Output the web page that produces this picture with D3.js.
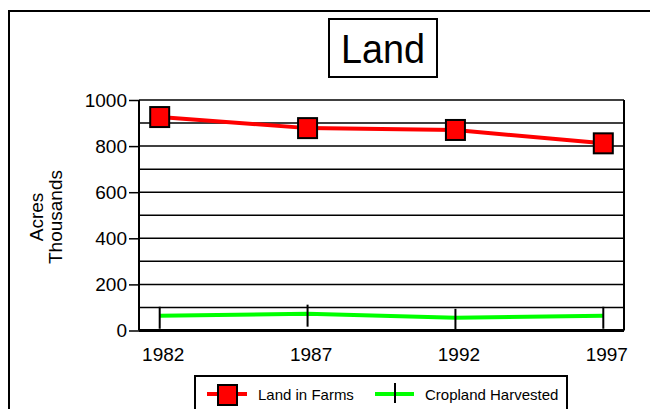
<!DOCTYPE html>
<html>
<head>
<meta charset="utf-8">
<script src="https://cdn.jsdelivr.net/npm/d3@7"></script>
<style>
  body { margin: 0; background: #fff; }
  svg { display: block; font-family: "Liberation Sans", Arial, sans-serif; }
</style>
</head>
<body>
<svg id="chart" width="650" height="409"></svg>
<script>
// data
var years = ["1982", "1987", "1992", "1997"];
var landInFarms = [926, 878, 870, 812];
var croplandHarvested = [64, 73, 55, 64];
var yTicks = [0, 200, 400, 600, 800, 1000];
var yGrid = [100, 200, 300, 400, 500, 600, 700, 800, 900, 1000];

var margin = {top: 100, right: 26, bottom: 78.5, left: 139};
var width = 650 - margin.left - margin.right;
var height = 409 - margin.top - margin.bottom;

var svg = d3.select("#chart");

// outer frame
svg.append("rect")
    .attr("x", 9).attr("y", 11)
    .attr("width", 660).attr("height", 420)
    .attr("fill", "none").attr("stroke", "#000").attr("stroke-width", 2);

// title box
svg.append("rect")
    .attr("x", 329).attr("y", 19)
    .attr("width", 108).attr("height", 58)
    .attr("fill", "#fff").attr("stroke", "#000").attr("stroke-width", 2);
svg.append("text")
    .attr("x", 383).attr("y", 62.5)
    .attr("text-anchor", "middle")
    .attr("font-size", 41)
    .attr("textLength", 84).attr("lengthAdjust", "spacingAndGlyphs")
    .text("Land");

var g = svg.append("g")
    .attr("transform", "translate(" + margin.left + "," + margin.top + ")");

var x = d3.scalePoint().domain(years).range([0, width]).padding(0.14);
var y = d3.scaleLinear().domain([0, 1000]).range([height, 0]);

// grid lines
g.selectAll(".grid")
    .data(yGrid)
    .enter().append("line")
    .attr("class", "grid")
    .attr("x1", 0).attr("x2", width)
    .attr("y1", d => y(d)).attr("y2", d => y(d))
    .attr("stroke", "#000").attr("stroke-width", 1.5);

// right border
g.append("line")
    .attr("x1", width).attr("x2", width)
    .attr("y1", 0).attr("y2", height)
    .attr("stroke", "#000").attr("stroke-width", 2);

// y axis
var yAxis = d3.axisLeft(y).tickValues(yTicks).tickFormat(d3.format("d")).tickSize(10).tickPadding(2);
var ya = g.append("g").attr("class", "axis axis--y").call(yAxis);
ya.attr("font-size", 19).attr("font-family", null);
ya.select(".domain").attr("stroke-width", 2).attr("d", "M0," + height + "V0");
ya.selectAll(".tick line").attr("stroke-width", 1.5);
ya.selectAll("text").attr("fill", "#000");

// x axis
var xAxis = d3.axisBottom(x).tickSize(0).tickPadding(17);
var xa = g.append("g")
    .attr("class", "axis axis--x")
    .attr("transform", "translate(0," + height + ")")
    .call(xAxis);
xa.attr("font-size", 19).attr("font-family", null);
xa.select(".domain").attr("stroke-width", 3).attr("d", "M0,0H" + width);
xa.selectAll("text").attr("fill", "#000").attr("dx", 3);

// y axis title
var yt = svg.append("text")
    .attr("transform", "translate(46,217) rotate(-90)")
    .attr("text-anchor", "middle")
    .attr("font-size", 19);
yt.append("tspan").attr("x", 0).attr("dy", -3).text("Acres");
yt.append("tspan").attr("x", 0).attr("dy", 19).text("Thousands");

var line = d3.line()
    .x((d, i) => x(years[i]))
    .y(d => y(d));

// cropland harvested
g.append("path")
    .datum(croplandHarvested)
    .attr("fill", "none").attr("stroke", "#00ff00").attr("stroke-width", 4)
    .attr("d", line);
g.selectAll(".crop-mark")
    .data(croplandHarvested)
    .enter().append("line")
    .attr("class", "crop-mark")
    .attr("x1", (d, i) => x(years[i])).attr("x2", (d, i) => x(years[i]))
    .attr("y1", d => y(d) - 9).attr("y2", d => Math.min(y(d) + 13, height))
    .attr("stroke", "#000").attr("stroke-width", 2);

// land in farms
g.append("path")
    .datum(landInFarms)
    .attr("fill", "none").attr("stroke", "#ff0000").attr("stroke-width", 4)
    .attr("d", line);
g.selectAll(".farm-mark")
    .data(landInFarms)
    .enter().append("rect")
    .attr("class", "farm-mark")
    .attr("x", (d, i) => x(years[i]) - 9.5)
    .attr("y", d => y(d) - 10)
    .attr("width", 19).attr("height", 20)
    .attr("fill", "#ff0000").attr("stroke", "#000").attr("stroke-width", 2);

// legend
var legend = svg.append("g");
legend.append("rect")
    .attr("x", 195).attr("y", 376)
    .attr("width", 372).attr("height", 50)
    .attr("fill", "#fff").attr("stroke", "#000").attr("stroke-width", 2);

legend.append("line")
    .attr("x1", 207).attr("x2", 247).attr("y1", 394).attr("y2", 394)
    .attr("stroke", "#ff0000").attr("stroke-width", 4);
legend.append("rect")
    .attr("x", 218).attr("y", 385).attr("width", 19).attr("height", 20)
    .attr("fill", "#ff0000").attr("stroke", "#000").attr("stroke-width", 2);
legend.append("text")
    .attr("x", 258).attr("y", 400)
    .attr("font-size", 15)
    .text("Land in Farms");

legend.append("line")
    .attr("x1", 375).attr("x2", 414).attr("y1", 394).attr("y2", 394)
    .attr("stroke", "#00ff00").attr("stroke-width", 4);
legend.append("line")
    .attr("x1", 395).attr("x2", 395).attr("y1", 383).attr("y2", 403)
    .attr("stroke", "#000").attr("stroke-width", 2);
legend.append("text")
    .attr("x", 425).attr("y", 400)
    .attr("font-size", 15)
    .text("Cropland Harvested");
</script>
</body>
</html>
